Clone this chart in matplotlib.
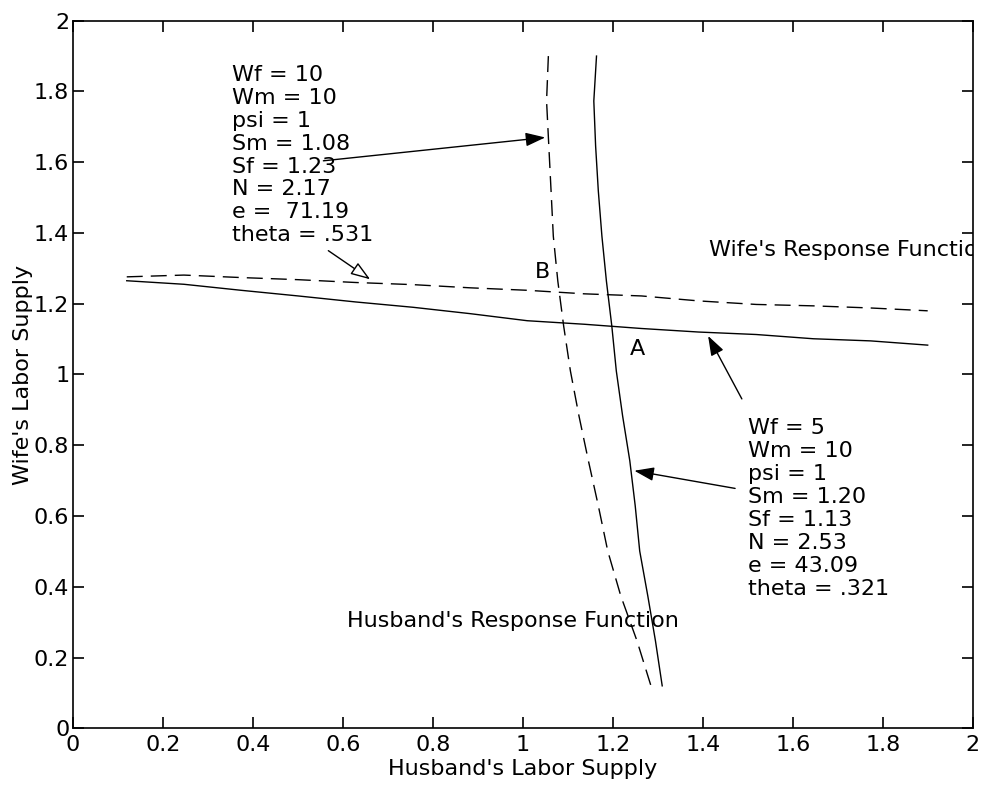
import numpy as np
import matplotlib
matplotlib.use('Agg')
import matplotlib.pyplot as plt

plt.rcParams['font.family'] = ['DejaVu Sans']
plt.rcParams['lines.scale_dashes'] = False

# wife's response functions (x = husband's supply, y = wife's supply)
wife_x = [0.12, 0.247, 0.374, 0.501, 0.629, 0.756, 0.883, 1.010, 1.137,
          1.264, 1.391, 1.519, 1.646, 1.773, 1.900]
wife_solid_y = [1.265, 1.255, 1.238, 1.222, 1.205, 1.190, 1.172, 1.152, 1.142,
                1.130, 1.120, 1.113, 1.101, 1.095, 1.083]
wife_dash_y = [1.276, 1.281, 1.274, 1.268, 1.260, 1.254, 1.245, 1.238, 1.228,
               1.222, 1.208, 1.198, 1.194, 1.188, 1.180]

# husband's response functions (y = wife's supply, x = husband's supply)
husb_y = [1.900, 1.773, 1.646, 1.519, 1.391, 1.264, 1.137, 1.010, 0.883,
          0.756, 0.629, 0.501, 0.374, 0.247, 0.12]
husb_solid_x = [1.164, 1.158, 1.162, 1.168, 1.176, 1.186, 1.198, 1.208, 1.222,
                1.238, 1.250, 1.260, 1.278, 1.295, 1.310]
husb_dash_x = [1.057, 1.053, 1.058, 1.063, 1.068, 1.078, 1.091, 1.106, 1.125,
               1.146, 1.168, 1.189, 1.218, 1.254, 1.285]

ticks = [0, 0.2, 0.4, 0.6, 0.8, 1, 1.2, 1.4, 1.6, 1.8, 2]
tick_labels = ['0', '0.2', '0.4', '0.6', '0.8', '1', '1.2', '1.4', '1.6', '1.8', '2']

block_a = ['Wf = 10', 'Wm = 10', 'psi = 1', 'Sm = 1.08', 'Sf = 1.23',
           'N = 2.17', 'e =  71.19', 'theta = .531']
block_b = ['Wf = 5', 'Wm = 10', 'psi = 1', 'Sm = 1.20', 'Sf = 1.13',
           'N = 2.53', 'e = 43.09', 'theta = .321']

fig = plt.figure(figsize=(9.87, 7.87), dpi=100)
ax = fig.add_axes([0.0737, 0.0746, 0.9118, 0.8991])

lw = 1.0
dash = (11.5, 5.8)
ax.plot(wife_x, wife_solid_y, color='k', lw=lw)
ax.plot(wife_x, wife_dash_y, color='k', lw=lw, ls='--', dashes=dash)
ax.plot(husb_solid_x, husb_y, color='k', lw=lw)
ax.plot(husb_dash_x, husb_y, color='k', lw=lw, ls='--', dashes=dash)

fs = 16
def block(lines, x, y):
    for i, s in enumerate(lines):
        ax.annotate(s, xy=(x, y), xycoords='data', xytext=(0, -16.5 * i),
                    textcoords='offset points', va='baseline', ha='left',
                    fontsize=fs)

block(block_a, 0.353, 1.83)
block(block_b, 1.50, 0.831)

def arrow(tail, tip, fc='k'):
    ax.annotate('', xy=tip, xytext=tail,
                arrowprops=dict(arrowstyle='-|>,head_length=0.8,head_width=0.28',
                                mutation_scale=15, lw=1.0, color='k', fc=fc,
                                shrinkA=0, shrinkB=0))

arrow((0.557, 1.604), (1.050, 1.670))
arrow((0.568, 1.350), (0.661, 1.269), fc='white')
arrow((1.487, 0.931), (1.412, 1.109))
arrow((1.472, 0.678), (1.248, 0.728))

# the reference cuts this label at the right edge of the axes
ax.text(1.415, 1.334, "Wife's Response Function", fontsize=fs,
        va='baseline', clip_on=True)
ax.text(0.610, 0.287, "Husband's Response Function", fontsize=fs,
        va='baseline')
ax.text(1.237, 1.055, 'A', fontsize=fs, va='baseline')
ax.text(1.027, 1.272, 'B', fontsize=fs, va='baseline')

ax.set_xlim(0, 2)
ax.set_ylim(0, 2)
ax.set_xticks(ticks)
ax.set_xticklabels(tick_labels)
ax.set_yticks(ticks)
ax.set_yticklabels(tick_labels)
ax.tick_params(direction='in', length=8, width=1.2, top=True, right=True,
               labelsize=fs)
ax.tick_params(axis='x', pad=5)
ax.tick_params(axis='y', pad=2.5)
for sp in ax.spines.values():
    sp.set_linewidth(1.2)
ax.set_xlabel("Husband's Labor Supply", fontsize=fs, labelpad=3)
ax.set_ylabel("Wife's Labor Supply", fontsize=fs, labelpad=1)

fig.savefig('out.png', dpi=100)
